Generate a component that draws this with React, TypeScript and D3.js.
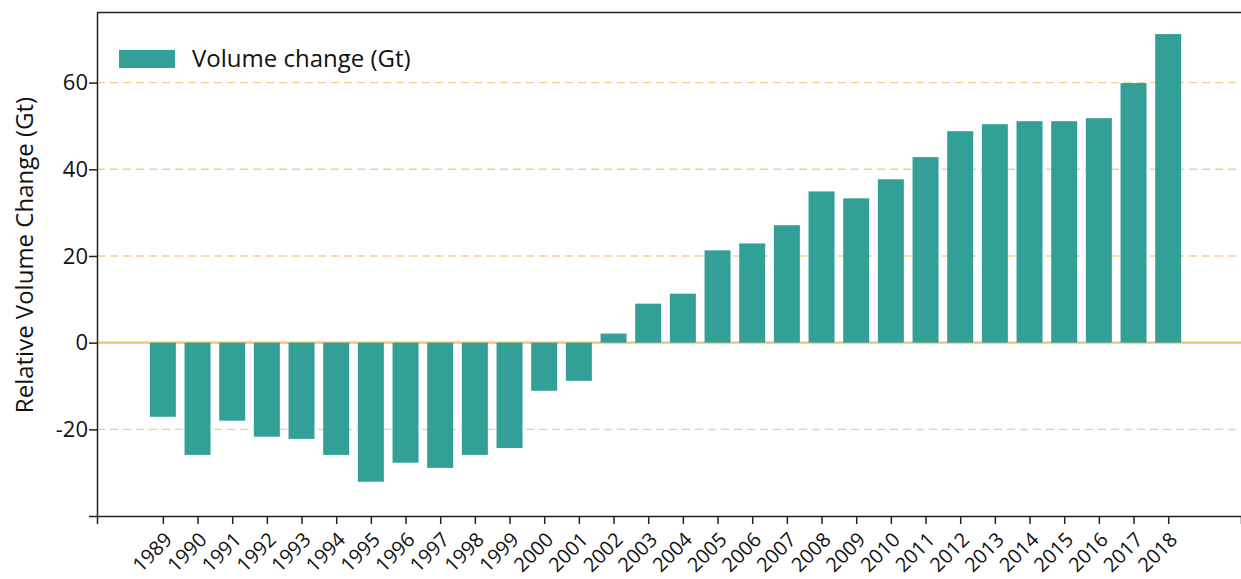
import React, { useRef, useEffect } from 'react';
import * as d3 from 'd3';

const years = [
  1989, 1990, 1991, 1992, 1993, 1994, 1995, 1996, 1997, 1998,
  1999, 2000, 2001, 2002, 2003, 2004, 2005, 2006, 2007, 2008,
  2009, 2010, 2011, 2012, 2013, 2014, 2015, 2016, 2017, 2018,
];
const volumeChange = [
  -17.1, -25.9, -18.0, -21.7, -22.2, -25.9, -32.1, -27.7, -28.9, -25.9,
  -24.3, -11.1, -8.8, 2.1, 9.0, 11.3, 21.3, 22.9, 27.1, 34.9,
  33.3, 37.7, 42.8, 48.8, 50.4, 51.1, 51.1, 51.8, 59.9, 71.2,
];
const yTicks = [-40, -20, 0, 20, 40, 60];
const seriesName = 'Volume change (Gt)';
const yTitle = 'Relative Volume Change (Gt)';

const W = 1241;
const H = 579;
const FONT = "'Open Sans', 'Noto Sans', sans-serif";
const BAR = '#32a096';
const GRID = '#f0cf8f';

const App = () => {
  const ref = useRef(null);

  useEffect(() => {
    const svg = d3.select(ref.current);
    svg.selectAll('*').remove();
    const left = 97, top = 12, bottom = 516, right = 1241;

    const x = d3.scaleLinear().domain([1987.1, 2020.1]).range([left, right]);
    const y = d3.scaleLinear().domain([-40, 76.3]).range([bottom, top]);
    const step = x(1990) - x(1989);
    const bw = step * 0.75;

    // grid
    svg.append('g')
      .selectAll('line')
      .data(yTicks.filter((t) => t !== -40 && t !== 0))
      .enter()
      .append('line')
      .attr('x1', left)
      .attr('x2', right)
      .attr('y1', (d) => y(d))
      .attr('y2', (d) => y(d))
      .attr('stroke', GRID)
      .attr('stroke-width', 1.4)
      .attr('stroke-dasharray', '8,5');

    // zero line
    svg.append('line')
      .attr('x1', left)
      .attr('x2', right)
      .attr('y1', y(0))
      .attr('y2', y(0))
      .attr('stroke', '#f0c274')
      .attr('stroke-width', 2.2);

    // bars
    svg.append('g')
      .selectAll('rect')
      .data(years)
      .enter()
      .append('rect')
      .attr('x', (d) => x(d) - bw / 2)
      .attr('width', bw)
      .attr('y', (d, i) => y(Math.max(0, volumeChange[i])))
      .attr('height', (d, i) => Math.abs(y(volumeChange[i]) - y(0)))
      .attr('fill', BAR);

    // top border
    svg.append('line')
      .attr('x1', left)
      .attr('x2', right)
      .attr('y1', top + 0.5)
      .attr('y2', top + 0.5)
      .attr('stroke', '#222')
      .attr('stroke-width', 1.5);

    // y axis
    const yAxis = svg.append('g')
      .attr('transform', `translate(${left},0)`)
      .call(
        d3.axisLeft(y)
          .tickValues(yTicks)
          .tickSize(8)
          .tickSizeOuter(0)
          .tickFormat((d) => (d === -40 ? '' : String(d)))
      );
    yAxis.select('.domain').attr('stroke', '#222').attr('stroke-width', 1.5);
    yAxis.selectAll('.tick line').attr('stroke', '#222').attr('stroke-width', 1.5);
    yAxis.selectAll('.tick text')
      .attr('font-family', FONT)
      .attr('font-size', 22)
      .attr('fill', '#111')
      .attr('x', -9);

    // x axis
    const xAxis = svg.append('g')
      .attr('transform', `translate(0,${bottom})`)
      .call(
        d3.axisBottom(x)
          .tickValues(years)
          .tickSize(8)
          .tickSizeOuter(8)
          .tickFormat((d) => String(d))
      );
    xAxis.select('.domain').attr('stroke', '#222').attr('stroke-width', 1.5);
    xAxis.selectAll('.tick line').attr('stroke', '#222').attr('stroke-width', 1.5);
    xAxis.selectAll('.tick text')
      .attr('font-family', FONT)
      .attr('font-size', 20)
      .attr('fill', '#111')
      .attr('text-anchor', 'end')
      .attr('dy', 0)
      .attr('y', 0)
      .attr('transform', 'translate(10,25) rotate(-45)');

    // y title
    svg.append('text')
      .attr('transform', `translate(33,255) rotate(-90)`)
      .attr('text-anchor', 'middle')
      .attr('font-family', FONT)
      .attr('font-size', 24)
      .attr('fill', '#111')
      .text(yTitle);

    // legend
    svg.append('rect')
      .attr('x', 119)
      .attr('y', 50)
      .attr('width', 56)
      .attr('height', 18)
      .attr('fill', BAR);
    svg.append('text')
      .attr('x', 192)
      .attr('y', 67)
      .attr('font-family', FONT)
      .attr('font-size', 24)
      .attr('fill', '#111')
      .text(seriesName);
  }, []);

  return (
    <svg
      ref={ref}
      width={W}
      height={H}
      style={{ position: 'absolute', left: 0, top: 0, background: '#fff' }}
    ></svg>
  );
};

export default App;
